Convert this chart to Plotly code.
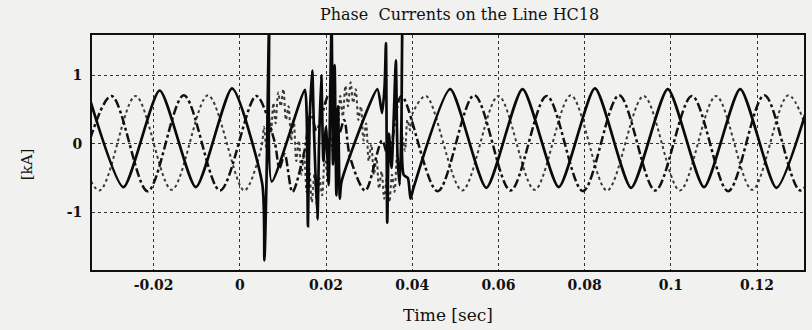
import plotly.graph_objects as go

# Phase A (solid) turning points, including the fault transients
t_a = [-0.0354, -0.0270, -0.0186, -0.0102, -0.0018, 0.0052, 0.0057, 0.0062, 0.0068, 0.0074,
       0.0151, 0.0155, 0.0158, 0.0162, 0.0168, 0.0172, 0.0180, 0.0184, 0.0189, 0.0194,
       0.0200, 0.0206, 0.0210, 0.0213, 0.0216, 0.0220, 0.0224, 0.0228, 0.0232, 0.0236,
       0.0319, 0.0330, 0.0336, 0.0339, 0.0342, 0.0346, 0.0352, 0.0358, 0.0362, 0.0366,
       0.0371, 0.0375, 0.0377, 0.0380, 0.0390, 0.0396, 0.0403,
       0.0488, 0.0572, 0.0656, 0.0740, 0.0824, 0.0908, 0.0993, 0.1077, 0.1161, 0.1245, 0.1329]
i_a = [0.78, -0.63, 0.78, -0.63, 0.81, -0.58, -1.70, -0.50, 1.75, -0.55,
       0.79, 0.45, -1.20, 0.35, 1.07, 0.20, -1.10, 0.05, 1.00, -0.25,
       0.25, -0.60, 0.85, 1.75, -0.30, 1.15, -0.75, 0.55, -0.80, -0.55,
       0.80, 0.45, 0.85, 1.47, -1.15, 0.15, -0.35, 0.55, 1.22, -0.20,
       -0.60, 0.35, 1.75, -0.45, -0.50, -0.80, -0.64,
       0.80, -0.64, 0.80, -0.63, 0.81, -0.64, 0.80, -0.63, 0.80, -0.64, 0.79]

# Phase B (dash-dot) turning points
t_b = [-0.0382, -0.0298, -0.0214, -0.0130, -0.0046, 0.0038, 0.0080, 0.0092, 0.0104, 0.0122,
       0.0150, 0.0165, 0.0178, 0.0207, 0.0230, 0.0242, 0.0256, 0.0291, 0.0330, 0.0345,
       0.0375, 0.0459, 0.0544, 0.0628, 0.0712, 0.0796, 0.0880, 0.0964, 0.1049, 0.1133,
       0.1217, 0.1301, 0.1385]
i_b = [-0.68, 0.70, -0.69, 0.71, -0.68, 0.70, 0.05, -0.35, -0.15, -0.70,
       -0.10, 0.45, 0.20, 0.72, 0.15, 0.35, -0.20, -0.68, 0.05, -0.20,
       0.70, -0.69, 0.71, -0.68, 0.70, -0.69, 0.71, -0.68, 0.70, -0.69,
       0.71, -0.68, 0.70]

# Phase C (dotted) turning points, noisy while the fault is on
t_c = [-0.0410, -0.0326, -0.0242, -0.0158, -0.0074, 0.0010,
       0.0050, 0.0056, 0.0061, 0.0067, 0.0072, 0.0078, 0.0083, 0.0089, 0.0095, 0.0101,
       0.0107, 0.0113, 0.0119, 0.0125, 0.0131, 0.0137, 0.0143, 0.0149, 0.0155, 0.0161,
       0.0167, 0.0173, 0.0179, 0.0185, 0.0191, 0.0197, 0.0203, 0.0209, 0.0215, 0.0221,
       0.0227, 0.0233, 0.0239, 0.0245, 0.0251, 0.0257, 0.0263, 0.0269, 0.0275, 0.0281,
       0.0287, 0.0293, 0.0299, 0.0305, 0.0311, 0.0317, 0.0323, 0.0329, 0.0335, 0.0341,
       0.0347, 0.0353, 0.0359, 0.0365, 0.0371, 0.0377, 0.0383, 0.0389, 0.0395, 0.0401,
       0.0432, 0.0516, 0.0600, 0.0684, 0.0768, 0.0852, 0.0937, 0.1021, 0.1105, 0.1189,
       0.1273, 0.1357]
i_c = [0.70, -0.68, 0.70, -0.67, 0.71, -0.68,
       -0.05, 0.25, -0.05, 0.45, 0.15, 0.60, 0.30, 0.75, 0.55, 0.80,
       0.35, 0.55, 0.05, 0.35, -0.25, 0.05, -0.45, -0.15, -0.70, -0.35,
       -0.85, -0.45, -0.90, -0.50, -0.75, -0.20, -0.45, 0.15, -0.10, 0.45,
       0.15, 0.70, 0.40, 0.85, 0.55, 0.90, 0.60, 0.80, 0.35, 0.55,
       0.05, 0.30, -0.25, 0.00, -0.45, -0.20, -0.65, -0.40, -0.80, -0.50,
       -0.85, -0.45, -0.70, -0.15, -0.40, 0.10, -0.10, 0.35, 0.20, 0.45,
       0.70, -0.68, 0.70, -0.67, 0.71, -0.68, 0.70, -0.68, 0.70, -0.67,
       0.71, -0.68]

x_ticks = [-0.02, 0, 0.02, 0.04, 0.06, 0.08, 0.1, 0.12]
x_labels = ["-0.02", "0", "0.02", "0.04", "0.06", "0.08", "0.1", "0.12"]
y_ticks = [-1, 0, 1]
y_labels = ["-1", "0", "1"]

paper = "#f1f1ef"
ink = "#111111"
serif = "DejaVu Serif"

fig = go.Figure()
fig.add_trace(go.Scatter(x=t_c, y=i_c, mode="lines",
                         line=dict(color="#3a3a3a", width=2, dash="dot",
                                   shape="spline", smoothing=0.9)))
fig.add_trace(go.Scatter(x=t_b, y=i_b, mode="lines",
                         line=dict(color=ink, width=2.5, dash="dashdot",
                                   shape="spline", smoothing=0.9)))
fig.add_trace(go.Scatter(x=t_a, y=i_a, mode="lines",
                         line=dict(color="#0a0a0a", width=2.7,
                                   shape="spline", smoothing=0.6)))

axis_common = dict(
    showline=True, mirror=True, linecolor=ink, linewidth=2,
    showgrid=True, gridcolor="#333333", griddash="dot", gridwidth=1,
    zeroline=False, ticks="",
    tickfont=dict(family=serif, size=14, color=ink, weight="bold"),
)

fig.update_layout(
    width=812, height=330,
    margin=dict(l=92, r=6, t=35, b=60),
    paper_bgcolor=paper, plot_bgcolor=paper,
    showlegend=False,
    title=dict(text="Phase  Currents on the Line HC18",
               font=dict(family=serif, size=16, color=ink),
               x=0.566, xanchor="center", y=0.955, yanchor="middle",
               xref="container", yref="container"),
    xaxis=dict(range=[-0.0343, 0.1309], tickvals=x_ticks, ticktext=x_labels,
               ticklabelstandoff=1, **axis_common),
    yaxis=dict(range=[-1.84, 1.59], tickvals=y_ticks, ticktext=y_labels,
               ticklabelstandoff=5, **axis_common),
    annotations=[
        dict(text="Time [sec]", xref="paper", yref="paper", x=0.5, y=0,
             yshift=-57, showarrow=False,
             font=dict(family=serif, size=17, color=ink)),
        dict(text="[kA]", xref="paper", yref="paper", x=0, y=0.45,
             xshift=-76, textangle=-90, showarrow=False,
             font=dict(family=serif, size=15, color=ink)),
    ],
)

fig.write_html("out.html")
